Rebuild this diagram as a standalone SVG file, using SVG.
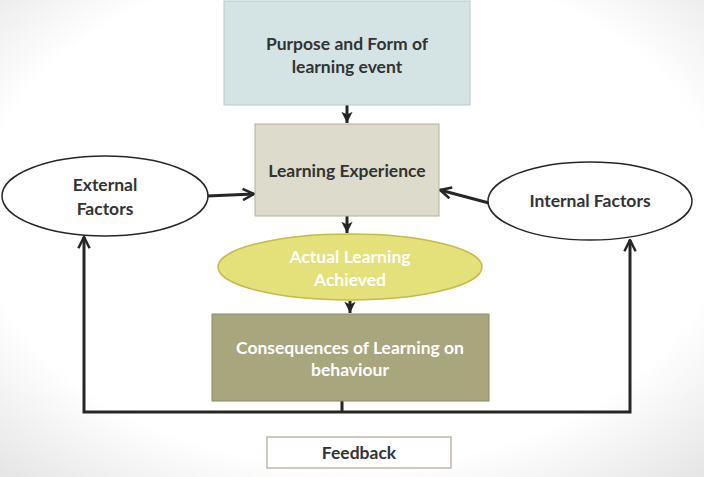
<svg xmlns="http://www.w3.org/2000/svg" width="704" height="477" viewBox="0 0 704 477">
<defs>
<radialGradient id="bg" cx="50%" cy="45%" r="75%">
<stop offset="0.7" stop-color="#ffffff"/>
<stop offset="1" stop-color="#e4e4e4"/>
</radialGradient>
<marker id="ah" markerWidth="14" markerHeight="14" viewBox="0 0 10 10" refX="9" refY="5" orient="auto" markerUnits="userSpaceOnUse">
<path d="M1,1 L9,5 L1,9 L3,5 Z" fill="#262626"/>
</marker>
<marker id="ah2" markerWidth="14" markerHeight="14" viewBox="0 0 10 10" refX="9" refY="5" orient="auto-start-reverse" markerUnits="userSpaceOnUse">
<path d="M1,1 L9,5 L1,9" fill="none" stroke="#262626" stroke-width="1.8"/>
</marker>
</defs>
<style>
text{font-family:Lato,"Open Sans","Liberation Sans",sans-serif;font-weight:bold;font-size:17.5px;text-anchor:middle}
.dark{fill:#333333}
.light{fill:#ffffff}
.conn{fill:none;stroke:#262626;stroke-width:3}
</style>
<rect width="704" height="477" fill="url(#bg)"/>
<g id="connectors">
<line class="conn" x1="347" y1="105" x2="347" y2="123" marker-end="url(#ah)"/>
<line class="conn" x1="347" y1="216" x2="347" y2="233" marker-end="url(#ah)"/>
<line class="conn" x1="350" y1="301" x2="350" y2="313" marker-end="url(#ah)"/>
<line class="conn" x1="207" y1="196" x2="254" y2="194" marker-end="url(#ah2)"/>
<line class="conn" x1="489" y1="203" x2="440" y2="190" marker-end="url(#ah2)"/>
<polyline class="conn" points="84,237 84,412 630,412 630,240" marker-start="url(#ah2)" marker-end="url(#ah2)"/>
<line class="conn" x1="342" y1="401" x2="342" y2="412"/>
</g>
<g id="purpose">
<rect x="224" y="1" width="246" height="104" fill="#d4e4e4" stroke="#b4cccc" stroke-width="1"/>
<text class="dark" x="347" y="50">Purpose and Form of</text>
<text class="dark" x="347" y="73">learning event</text>
</g>
<g id="experience">
<rect x="255" y="124" width="184" height="92" fill="#dcdbcc" stroke="#b4b294" stroke-width="1"/>
<text class="dark" x="347" y="177">Learning Experience</text>
</g>
<g id="external">
<ellipse cx="105" cy="196" rx="103" ry="40" fill="#ffffff" stroke="#262626" stroke-width="1.5"/>
<text class="dark" x="105" y="191">External</text>
<text class="dark" x="105" y="215">Factors</text>
</g>
<g id="internal">
<ellipse cx="590" cy="201" rx="102" ry="39" fill="#ffffff" stroke="#262626" stroke-width="1.5"/>
<text class="dark" x="590" y="207">Internal Factors</text>
</g>
<g id="actual">
<ellipse cx="350" cy="267" rx="132" ry="33" fill="#e4e07a" stroke="#c4bc44" stroke-width="1.5"/>
<text class="light" x="350" y="263">Actual Learning</text>
<text class="light" x="350" y="286">Achieved</text>
</g>
<g id="consequences">
<rect x="212" y="314" width="277" height="87" fill="#a8a67c" stroke="#8c8a64" stroke-width="1"/>
<text class="light" x="350" y="354">Consequences of Learning on</text>
<text class="light" x="350" y="376">behaviour</text>
</g>
<g id="feedback">
<rect x="267" y="437" width="184" height="31" fill="#ffffff" stroke="#c0b8a8" stroke-width="1.5"/>
<text class="dark" x="359" y="459">Feedback</text>
</g>
</svg>
